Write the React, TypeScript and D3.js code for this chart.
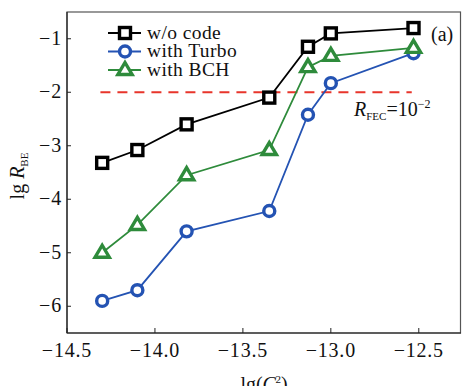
import React from "react";
import * as d3 from "d3";

const xs = [-14.3, -14.1, -13.82, -13.35, -13.13, -13.0, -12.53];
const woCode = [-3.32, -3.08, -2.6, -2.1, -1.15, -0.9, -0.8];
const turbo = [-5.9, -5.7, -4.6, -4.22, -2.42, -1.83, -1.27];
const bch = [-5.0, -4.48, -3.55, -3.08, -1.53, -1.32, -1.17];
const xTicks = [-14.5, -14.0, -13.5, -13.0, -12.5];
const yTicks = [-1, -2, -3, -4, -5, -6];
const fecLevel = -2;
const fecRange = [-14.31, -12.54];
const seriesNames = ["w/o code", "with Turbo", "with BCH"];

const W = 462, H = 386;
const L = 67, T = 12, R = 461, B = 333;
const TS: React.CSSProperties = { fontFamily: "Liberation Serif" };

export default function App() {
  const x = d3.scaleLinear().domain([-14.5, -12.26]).range([L, R]);
  const y = d3.scaleLinear().domain([-6.5, -0.5]).range([B, T]);
  const line = d3.line<number>().x((_, i) => x(xs[i])).y((d) => y(d));

  const black = "#000";
  const blue = "#2453b3";
  const green = "#2e8b3b";
  const red = "#e8352b";

  const square = (cx: number, cy: number, c: string, k: string) => (
    <g key={k}>
      <rect x={cx - 5.5} y={cy - 5.5} width={11} height={11} fill="#fff" stroke={c} strokeWidth={3.4} />
      <rect x={cx - 1.5} y={cy - 1} width={3} height={2} fill="#fff" />
    </g>
  );
  const circle = (cx: number, cy: number, c: string, k: string) => (
    <circle key={k} cx={cx} cy={cy} r={5.5} fill="#fff" stroke={c} strokeWidth={3.4} />
  );
  const tri = (cx: number, cy: number, c: string, k: string) => {
    const s = 7.5;
    const p = `${cx},${cy - s} ${cx + s * 0.95},${cy + s * 0.6} ${cx - s * 0.95},${cy + s * 0.6}`;
    return <polygon key={k} points={p} fill="#fff" stroke={c} strokeWidth={3.4} strokeLinejoin="miter" />;
  };

  const series = [
    { data: woCode, color: black, marker: square },
    { data: turbo, color: blue, marker: circle },
    { data: bch, color: green, marker: tri },
  ];

  const legendY = [33, 51.5, 70];

  return (
    <svg width={W} height={H} style={{ position: "absolute", left: 0, top: 0, background: "#fff" }}>
      <rect x={0} y={0} width={W} height={H} fill="#fff" />
      <rect x={L} y={T} width={R - L - 0.5} height={B - T} fill="none" stroke="#555" strokeWidth={1.2} />
      <line x1={L} y1={T} x2={L} y2={B} stroke="#222" strokeWidth={1.2} />
      <line x1={L} y1={B} x2={R} y2={B} stroke="#222" strokeWidth={1.2} />
      {xTicks.map((t) => (
        <g key={"xt" + t}>
          <line x1={x(t)} x2={x(t)} y1={B} y2={B - 5} stroke="#222" strokeWidth={1} />
          <text x={x(t)} y={357} textAnchor="middle" fontSize={20} letterSpacing={0.8} fill="#111" style={TS}>
            {"\u2212" + Math.abs(t).toFixed(1)}
          </text>
        </g>
      ))}
      {yTicks.map((t) => (
        <g key={"yt" + t}>
          <line x1={L} x2={L + 4} y1={y(t)} y2={y(t)} stroke="#222" strokeWidth={1} />
          <text x={L - 5} y={y(t) + 6} textAnchor="end" fontSize={20} letterSpacing={0.8} fill="#111" style={TS}>
            {"\u2212" + Math.abs(t)}
          </text>
        </g>
      ))}
      <line x1={x(fecRange[0])} x2={x(fecRange[1])} y1={y(fecLevel)} y2={y(fecLevel)} stroke={red} strokeWidth={2} strokeDasharray="10,7" />
      {series.map((s, si) => (
        <g key={"s" + si}>
          <path d={line(s.data) || ""} fill="none" stroke={s.color} strokeWidth={1.8} />
          {s.data.map((v, i) => s.marker(x(xs[i]), y(v), s.color, `m${si}-${i}`))}
        </g>
      ))}
      {series.map((s, si) => (
        <g key={"lg" + si}>
          <line x1={108} x2={141} y1={legendY[si]} y2={legendY[si]} stroke={s.color} strokeWidth={1.8} />
          {s.marker(125, legendY[si], s.color, "lm" + si)}
          <text x={147} y={legendY[si] + 5.5} fontSize={19.5} letterSpacing={0.4} fill="#111" style={TS}>{seriesNames[si]}</text>
        </g>
      ))}
      <text x={431} y={41} fontSize={20} fill="#111" style={TS}>(a)</text>
      <text x={354} y={116} fontSize={20} fill="#111" style={TS}>
        <tspan fontStyle="italic">R</tspan>
        <tspan fontSize={11} dy={4}>FEC</tspan>
        <tspan dy={-4}>=10</tspan>
        <tspan fontSize={12} dy={-8}>{"\u22122"}</tspan>
      </text>
      <text transform={`translate(24,176) rotate(-90)`} textAnchor="middle" fontSize={20} fill="#111" style={TS}>
        <tspan>lg </tspan>
        <tspan fontStyle="italic">R</tspan>
        <tspan fontSize={11} dy={4}>BE</tspan>
      </text>
      <text x={264} y={391} textAnchor="middle" fontSize={20} fill="#111" style={TS}>
        <tspan>lg(</tspan>
        <tspan fontStyle="italic">C</tspan>
        <tspan fontSize={11} fontStyle="italic" dy={4}>n</tspan>
        <tspan fontSize={11} dx={-6} dy={-12}>2</tspan>
        <tspan dy={8}>)</tspan>
      </text>
    </svg>
  );
}
